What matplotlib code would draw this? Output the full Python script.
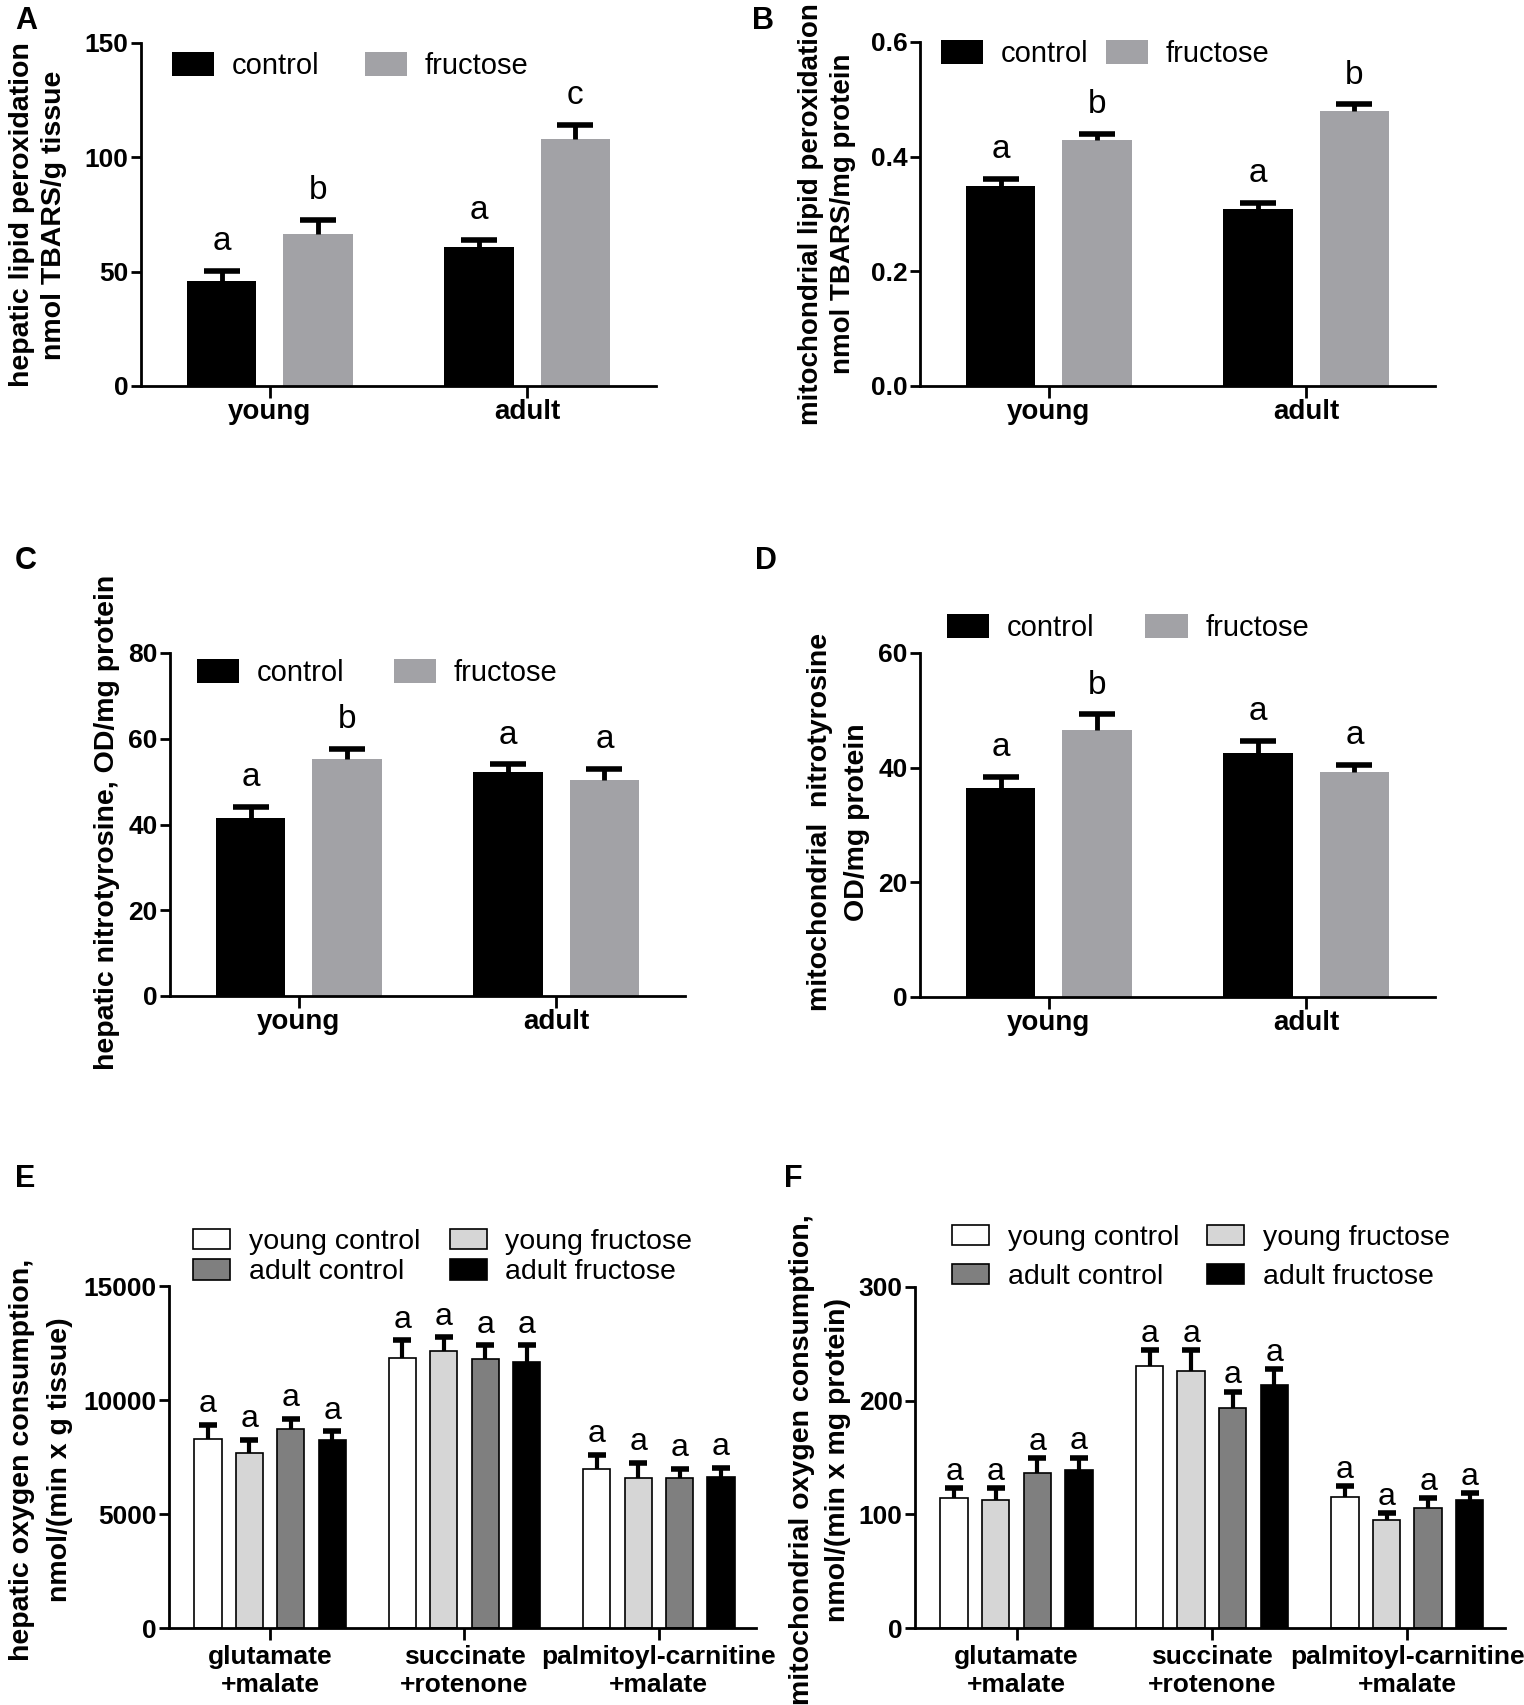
import numpy as np
import matplotlib
matplotlib.use('Agg')
import matplotlib.pyplot as plt
from matplotlib.patches import Patch

plt.rcParams['font.family'] = ['Liberation Sans', 'DejaVu Sans']

W, H = 1524, 1705

# ---- data ----
groups2 = ['young', 'adult']

a_control = [45.8, 60.8]
a_control_err = [4.4, 3.2]
a_fructose = [66.4, 107.8]
a_fructose_err = [6.3, 6.3]
a_letters = [['a', 'a'], ['b', 'c']]

b_control = [0.349, 0.309]
b_control_err = [0.012, 0.011]
b_fructose = [0.429, 0.480]
b_fructose_err = [0.011, 0.011]
b_letters = [['a', 'a'], ['b', 'b']]

c_control = [41.6, 52.3]
c_control_err = [2.5, 1.7]
c_fructose = [55.3, 50.4]
c_fructose_err = [2.3, 2.6]
c_letters = [['a', 'a'], ['b', 'a']]

d_control = [36.5, 42.6]
d_control_err = [1.9, 2.0]
d_fructose = [46.6, 39.3]
d_fructose_err = [2.7, 1.2]
d_letters = [['a', 'a'], ['b', 'a']]

substrates = ['glutamate\n+malate', 'succinate\n+rotenone', 'palmitoyl-carnitine\n+malate']
series4 = ['young control', 'young fructose', 'adult control', 'adult fructose']

e_values = [[8282, 11825, 6979],   # young control
            [7669, 12163, 6564],   # young fructose
            [8712, 11779, 6564],   # adult control
            [8252, 11656, 6610]]   # adult fructose
e_err = [[629, 798, 613],
         [583, 583, 690],
         [460, 614, 415],
         [368, 737, 415]]

f_values = [[114.0, 230.8, 115.3],
            [112.5, 225.9, 95.3],
            [136.2, 193.9, 105.4],
            [138.6, 213.9, 112.5]]
f_err = [[8.9, 13.6, 9.2],
         [10.4, 18.5, 5.5],
         [13.2, 13.9, 8.6],
         [11.4, 13.6, 6.1]]

colors2 = ['#000000', '#a2a2a6']
colors4 = ['#ffffff', '#d6d6d6', '#7f7f7f', '#000000']

fig = plt.figure(figsize=(W / 100, H / 100), dpi=100)


def make_ax(x0, x1, y0, y1, xsize=20, xpad=1):
    ax = fig.add_axes([x0 / W, 1 - y1 / H, (x1 - x0) / W, (y1 - y0) / H])
    for s in ['top', 'right']:
        ax.spines[s].set_visible(False)
    for s in ['left', 'bottom']:
        ax.spines[s].set_linewidth(2)
    ax.tick_params(axis='y', length=7, width=2, pad=2, labelsize=19)
    ax.tick_params(axis='x', length=8.5, width=2, pad=xpad, labelsize=xsize)
    return ax


def bold_ticks(ax):
    for lab in ax.get_xticklabels() + ax.get_yticklabels():
        lab.set_fontweight('bold')


def upper_err(ax, xs, vals, errs, lw, cap):
    _, caps, _ = ax.errorbar(xs, vals, yerr=[np.zeros(len(vals)), errs], fmt='none',
                             ecolor='black', elinewidth=lw, capsize=cap, capthick=4, zorder=3)
    caps[0].set_visible(False)


def two_group(ax, ctrl, ctrl_err, fruc, fruc_err, letters, ylim, yticks, fmt):
    x = np.arange(len(groups2))
    off, w = 0.187, 0.27
    for i, (vals, errs, col) in enumerate([(ctrl, ctrl_err, colors2[0]), (fruc, fruc_err, colors2[1])]):
        xs = x + (i * 2 - 1) * off
        ax.bar(xs, vals, w, color=col, edgecolor='none', zorder=2)
        upper_err(ax, xs, vals, errs, 3.5, 13)
        for xx, v, e, t in zip(xs, vals, errs, letters[i]):
            ax.annotate(t, (xx, v + e), xytext=(0, 15), textcoords='offset points',
                        ha='center', va='baseline', fontsize=24)
    ax.set_xlim(-0.5, 1.5)
    ax.set_ylim(*ylim)
    ax.set_yticks(yticks)
    ax.set_yticklabels([fmt.format(t) for t in yticks])
    ax.set_xticks(x)
    ax.set_xticklabels(groups2)
    bold_ticks(ax)


def four_group(ax, vals, errs, ylim, yticks, text_off):
    x = np.arange(len(substrates))
    w, step = 0.14, 0.213
    for i in range(4):
        xs = x + (i - 1.5) * step
        ax.bar(xs, vals[i], w, color=colors4[i], edgecolor='black', linewidth=1.2, zorder=2)
        upper_err(ax, xs, vals[i], errs[i], 3, 6.5)
        for xx, v, e in zip(xs, vals[i], errs[i]):
            ax.annotate('a', (xx, v + e), xytext=(0, text_off), textcoords='offset points',
                        ha='center', va='baseline', fontsize=23)
    ax.set_xlim(-0.52, 2.5)
    ax.set_ylim(*ylim)
    ax.set_yticks(yticks)
    ax.set_xticks(x)
    ax.set_xticklabels(substrates, linespacing=1.2)
    bold_ticks(ax)


def legend2(ax, px, py, colspace):
    handles = [Patch(facecolor=c, edgecolor='none') for c in colors2]
    ax.legend(handles, ['control', 'fructose'], loc='upper left',
              bbox_to_anchor=(px / W, 1 - py / H), bbox_transform=fig.transFigure,
              ncol=2, frameon=False, borderpad=0, borderaxespad=0, fontsize=21,
              handlelength=1.45, handleheight=0.85, handletextpad=0.6, columnspacing=colspace)


def legend4(ax, px, py, colspace, rowspace):
    order = [0, 2, 1, 3]
    handles = [Patch(facecolor=colors4[i], edgecolor='black', linewidth=1.2) for i in order]
    labels = [series4[i] for i in order]
    ax.legend(handles, labels, loc='upper left',
              bbox_to_anchor=(px / W, 1 - py / H), bbox_transform=fig.transFigure,
              ncol=2, frameon=False, borderpad=0, borderaxespad=0, fontsize=20.5,
              handlelength=1.3, handleheight=0.72, handletextpad=0.65,
              columnspacing=colspace, labelspacing=rowspace)


# ---- A ----
axA = make_ax(141, 656, 43, 386)
two_group(axA, a_control, a_control_err, a_fructose, a_fructose_err, a_letters,
          (0, 150), [0, 50, 100, 150], '{:g}')
legend2(axA, 172, 52, 1.55)
fig.text(22 / W, 1 - 215 / H, 'hepatic lipid peroxidation', rotation=90, ha='center', va='center',
         fontsize=20.5, fontweight='bold')
fig.text(54 / W, 1 - 215 / H, 'nmol TBARS/g tissue', rotation=90, ha='center', va='center',
         fontsize=20.5, fontweight='bold')

# ---- B ----
axB = make_ax(920, 1435, 42, 386)
two_group(axB, b_control, b_control_err, b_fructose, b_fructose_err, b_letters,
          (0, 0.6), [0, 0.2, 0.4, 0.6], '{:.1f}')
legend2(axB, 941, 40, 0.6)
fig.text(811 / W, 1 - 214 / H, 'mitochondrial lipid peroxidation', rotation=90, ha='center', va='center',
         fontsize=20, fontweight='bold')
fig.text(843 / W, 1 - 214 / H, 'nmol TBARS/mg protein', rotation=90, ha='center', va='center',
         fontsize=20, fontweight='bold')

# ---- C ----
axC = make_ax(170, 685, 653, 996)
two_group(axC, c_control, c_control_err, c_fructose, c_fructose_err, c_letters,
          (0, 80), [0, 20, 40, 60, 80], '{:g}')
legend2(axC, 197, 659, 1.7)
fig.text(107 / W, 1 - 822 / H, 'hepatic nitrotyrosine, OD/mg protein', rotation=90, ha='center',
         va='center', fontsize=20.5, fontweight='bold')

# ---- D ----
axD = make_ax(920, 1435, 653, 997)
two_group(axD, d_control, d_control_err, d_fructose, d_fructose_err, d_letters,
          (0, 60), [0, 20, 40, 60], '{:g}')
legend2(axD, 947, 614, 1.75)
fig.text(820 / W, 1 - 822 / H, 'mitochondrial  nitrotyrosine', rotation=90, ha='center', va='center',
         fontsize=20.5, fontweight='bold')
fig.text(857 / W, 1 - 822 / H, 'OD/mg protein', rotation=90, ha='center', va='center',
         fontsize=20.5, fontweight='bold')

# ---- E ----
axE = make_ax(169, 756, 1286, 1628, xsize=19, xpad=4)
four_group(axE, e_values, e_err, (0, 15000), [0, 5000, 10000, 15000], 9)
legend4(axE, 193, 1229, 1.05, 0.15)
fig.text(22 / W, 1 - 1460 / H, 'hepatic oxygen consumption,', rotation=90, ha='center', va='center',
         fontsize=20.5, fontweight='bold')
fig.text(60 / W, 1 - 1460 / H, 'nmol/(min x g tissue)', rotation=90, ha='center', va='center',
         fontsize=20.5, fontweight='bold')

# ---- F ----
axF = make_ax(915, 1505, 1287, 1628, xsize=19, xpad=4)
four_group(axF, f_values, f_err, (0, 300), [0, 100, 200, 300], 6)
legend4(axF, 952, 1225, 1.0, 0.45)
fig.text(802 / W, 1 - 1460 / H, 'mitochondrial oxygen consumption,', rotation=90, ha='center',
         va='center', fontsize=20.5, fontweight='bold')
fig.text(838 / W, 1 - 1460 / H, 'nmol/(min x mg protein)', rotation=90, ha='center', va='center',
         fontsize=20.5, fontweight='bold')

# ---- panel letters ----
for lab, px, py in [('A', 15, 6), ('B', 752, 6), ('C', 15, 546), ('D', 755, 546),
                    ('E', 15, 1164), ('F', 784, 1164)]:
    fig.text(px / W, 1 - py / H, lab, ha='left', va='top', fontsize=22, fontweight='bold')

fig.savefig('out.png', dpi=100, facecolor='white')
